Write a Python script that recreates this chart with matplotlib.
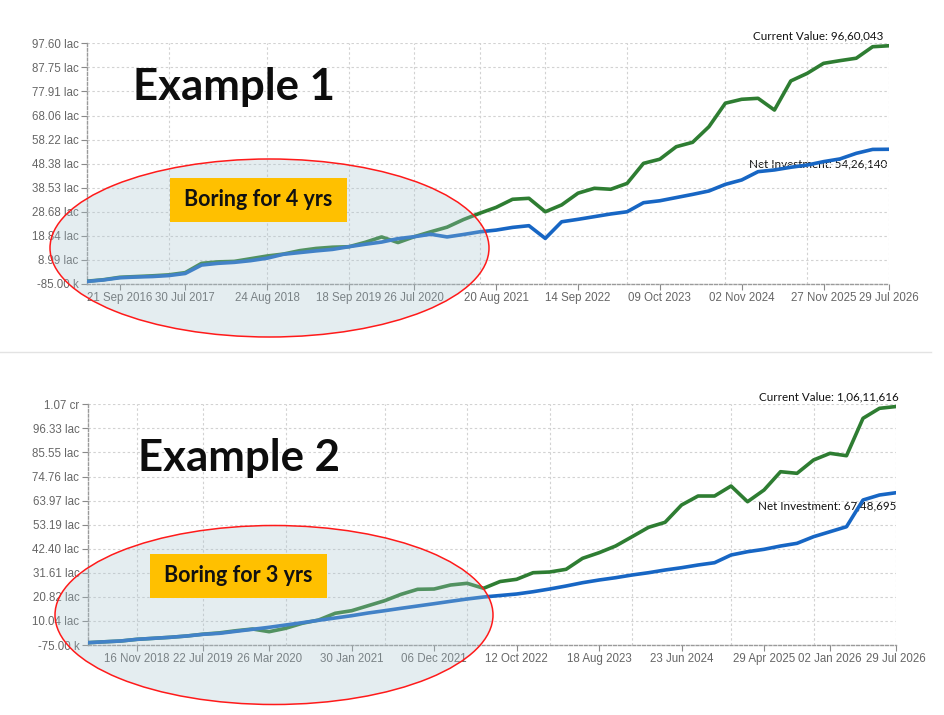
import numpy as np
import matplotlib
matplotlib.use("Agg")
import matplotlib.pyplot as plt
from matplotlib.patches import Ellipse, Rectangle

# values in lac, one point per statement date (50 points per chart)
net_1 = [0.2, 0.8, 1.7, 2.0, 2.2, 2.6, 3.45, 6.9, 7.6, 8.0, 8.7, 9.7, 11.3, 12.0, 12.7,
         13.3, 14.4, 15.4, 16.3, 17.7, 18.5, 19.5, 18.4, 19.4, 20.5, 21.2, 22.3, 23.0, 17.8,
         24.6, 25.6, 26.7, 27.8, 28.7, 32.4, 33.2, 34.5, 35.8, 37.2, 39.9, 41.7, 45.1, 45.8,
         46.9, 47.8, 49.2, 50.3, 52.6, 54.2, 54.26]
value_1 = [0.3, 0.9, 1.9, 2.2, 2.5, 2.9, 3.8, 7.6, 8.2, 8.4, 9.5, 10.6, 11.4, 12.8, 13.7,
           14.2, 14.4, 16.2, 18.4, 16.1, 18.5, 20.5, 22.4, 25.5, 28.1, 30.5, 33.8, 34.2, 28.7,
           31.5, 36.3, 38.3, 37.9, 40.3, 48.5, 50.2, 55.3, 57.1, 63.5, 73.1, 74.7, 75.1, 70.3,
           82.2, 85.3, 89.4, 90.5, 91.5, 96.2, 96.60]
net_2 = [0.28, 0.68, 1.04, 1.8, 2.25, 2.7, 3.28, 4.04, 4.49, 5.39, 6.29, 7.18, 8.21, 9.24,
         10.32, 11.35, 12.38, 13.59, 14.62, 15.7, 16.73, 17.76, 18.83, 19.86, 20.76, 21.43,
         22.1, 23.13, 24.34, 25.69, 27.17, 28.38, 29.41, 30.62, 31.65, 32.86, 33.89, 35.1,
         36.13, 39.58, 41.06, 42.13, 43.61, 44.82, 47.78, 50.02, 52.26, 64.23, 66.47, 67.49]
value_2 = [0.28, 0.68, 1.04, 1.8, 2.25, 2.7, 3.28, 4.1, 4.7, 5.66, 6.42, 5.21, 6.73, 8.97,
           10.45, 13.46, 14.62, 16.86, 19.1, 21.97, 24.21, 24.34, 26.14, 26.9, 24.66, 27.7,
           28.69, 31.65, 31.96, 33.17, 38.1, 40.61, 43.61, 47.78, 51.99, 54.23, 61.99, 66.02,
           66.02, 70.5, 63.46, 68.71, 76.91, 76.19, 82.15, 85.15, 84.08, 100.84, 105.32, 106.12]

xtick_pos_1 = [2, 6, 11, 16, 20, 25, 30, 35, 40, 45, 49]
xtick_lab_1 = ["21 Sep 2016", "30 Jul 2017", "24 Aug 2018", "18 Sep 2019", "26 Jul 2020",
               "20 Aug 2021", "14 Sep 2022", "09 Oct 2023", "02 Nov 2024", "27 Nov 2025",
               "29 Jul 2026"]
xgrid_1 = [5, 11, 16, 20, 24, 28, 33, 39, 44, 49]
yrange_1 = (-0.85, 97.60)
ytick_lab_1 = ["-85.00 k", "8.99 lac", "18.84 lac", "28.68 lac", "38.53 lac", "48.38 lac",
               "58.22 lac", "68.06 lac", "77.91 lac", "87.75 lac", "97.60 lac"]

xtick_pos_2 = [3, 7, 11, 16, 21, 26, 31, 36, 41, 45, 49]
xtick_lab_2 = ["16 Nov 2018", "22 Jul 2019", "26 Mar 2020", "30 Jan 2021", "06 Dec 2021",
               "12 Oct 2022", "18 Aug 2023", "23 Jun 2024", "29 Apr 2025", "02 Jan 2026",
               "29 Jul 2026"]
xgrid_2 = [3, 7, 12, 18, 23, 28, 33, 39, 44, 49]
yrange_2 = (-0.75, 107.12)
ytick_lab_2 = ["-75.00 k", "10.04 lac", "20.82 lac", "31.61 lac", "42.40 lac", "53.19 lac",
               "63.97 lac", "74.76 lac", "85.55 lac", "96.33 lac", "1.07 cr"]

cur_text = ["Current Value: 96,60,043", "Current Value: 1,06,11,616"]
net_text = ["Net Investment: 54,26,140", "Net Investment: 67,48,695"]

GREEN = "#2e7d32"
BLUE = "#1766c4"
GRID = "#d2d2d2"


def draw_chart(ax, net, value, yrange, ylabels, xticks, xlabels, xgrid, ctext, ntext, coff, noff):
    x = np.arange(len(net))
    ax.plot(x, value, color=GREEN, lw=2.6, solid_joinstyle="round", solid_capstyle="round", zorder=3)
    ax.plot(x, net, color=BLUE, lw=2.6, solid_joinstyle="round", solid_capstyle="round", zorder=4)
    ax.set_xlim(0, len(net) - 1)
    ax.set_ylim(*yrange)
    ax.set_yticks(np.linspace(yrange[0], yrange[1], len(ylabels)))
    ax.set_yticklabels(ylabels)
    ax.set_xticks(xticks)
    ax.set_xticklabels(xlabels)
    ax.xaxis.remove_overlapping_locs = False
    ax.set_xticks(xgrid, minor=True)
    ax.grid(axis="y", which="major", color=GRID, ls=(0, (2.2, 2.2)), lw=0.8)
    ax.grid(axis="x", which="minor", color=GRID, ls=(0, (2.2, 2.2)), lw=0.8)
    ax.tick_params(which="minor", length=0)
    ax.tick_params(which="major", length=4, width=0.8, color="#8a8a8a",
                   labelcolor="#666666", labelsize=8.3, pad=2)
    for lab in ax.get_xticklabels() + ax.get_yticklabels():
        lab.set_family("Liberation Sans")
    for s in ["top", "right"]:
        ax.spines[s].set_visible(False)
    for s in ["left", "bottom"]:
        ax.spines[s].set_color("#9a9a9a")
        ax.spines[s].set_linestyle((0, (2, 1.5)))
        ax.spines[s].set_linewidth(1.0)
    ax.set_facecolor("none")
    n = len(net) - 1
    ax.annotate(ctext, xy=(n, value[-1]), xytext=coff, textcoords="offset pixels",
                ha="right", va="center", fontsize=8.4, family="Lato", color="#111111", zorder=1)
    ax.annotate(ntext, xy=(n, net[-1]), xytext=noff, textcoords="offset pixels",
                ha="right", va="center", fontsize=8.4, family="Lato", color="#111111", zorder=1)


fig = plt.figure(figsize=(9.45, 7.15), dpi=100)
W, H = 945, 715

ax1 = fig.add_axes([87 / W, 1 - 284 / H, 802 / W, 240.7 / H])
draw_chart(ax1, net_1, value_1, yrange_1, ytick_lab_1, xtick_pos_1, xtick_lab_1, xgrid_1,
           cur_text[0], net_text[0], (-6, 10), (-2, -15))

ax2 = fig.add_axes([87.7 / W, 1 - 645 / H, 808.3 / W, 240.7 / H])
draw_chart(ax2, net_2, value_2, yrange_2, ytick_lab_2, xtick_pos_2, xtick_lab_2, xgrid_2,
           cur_text[1], net_text[1], (3, 10), (0, -13))

# overlay in pixel space for the callouts
ov = fig.add_axes([0, 0, 1, 1])
ov.set_xlim(0, W)
ov.set_ylim(H, 0)
ov.axis("off")
ov.patch.set_alpha(0)

ov.plot([0, 931], [352, 352], color="#e3e3e3", lw=1)

fill = (0.66, 0.77, 0.81, 0.30)
ov.add_patch(Ellipse((269.5, 248), 439, 178, fc=fill, ec="#ff1a1a", lw=1.1))
ov.add_patch(Ellipse((274, 615), 438, 179, fc=fill, ec="#ff1a1a", lw=1.1))

ov.add_patch(Rectangle((170, 178), 177, 44, fc="#ffc000", ec="none"))
ov.add_patch(Rectangle((150, 554), 177, 44, fc="#ffc000", ec="none"))
ov.text(258.5, 200, "Boring for 4 yrs", ha="center", va="center", fontsize=15.5,
        fontweight="bold", family="Lato", color="#111111")
ov.text(238.5, 576, "Boring for 3 yrs", ha="center", va="center", fontsize=15.5,
        fontweight="bold", family="Lato", color="#111111")

ov.text(133, 100, "Example 1", ha="left", va="baseline", fontsize=31.5,
        fontweight="bold", family="Lato", color="#0d0d0d")
ov.text(138, 471.5, "Example 2", ha="left", va="baseline", fontsize=31.5,
        fontweight="bold", family="Lato", color="#0d0d0d")

fig.savefig("out.png", dpi=100)
